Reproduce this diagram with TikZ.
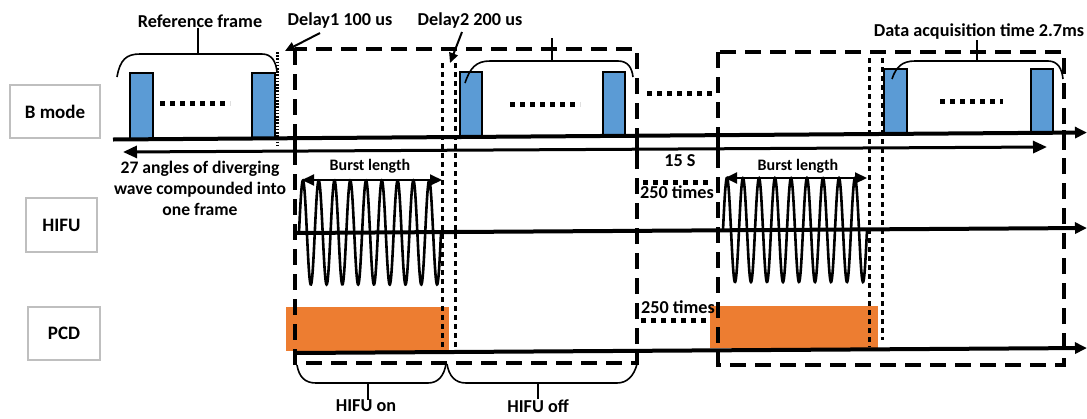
\documentclass[tikz,border=0pt]{standalone}
\usepackage{fontspec}
\setmainfont{Carlito}
\usetikzlibrary{arrows.meta}
\definecolor{pulseblue}{HTML}{5B9BD5}
\definecolor{pcdorange}{HTML}{ED7D31}
\definecolor{boxgray}{HTML}{BFBFBF}
\tikzset{
  axisline/.style={line width=4pt, -{Triangle[length=12pt,width=11pt]}},
  dashbox/.style={line width=4pt, dash pattern=on 16pt off 9pt},
  delayline/.style={line width=3pt, dash pattern=on 5pt off 4pt},
  dotrow/.style={line width=5pt, dash pattern=on 5pt off 5pt},
  pulse/.style={draw=black, line width=2.5pt, fill=pulseblue},
  bracket/.style={line width=1.6pt},
  tick/.style={line width=4pt},
  wave/.style={line width=2.6pt},
  lbl/.style={font=\bfseries\fontsize{18.2}{21}\selectfont, inner sep=0pt},
  anglbl/.style={font=\bfseries\fontsize{17.6}{21}\selectfont, inner sep=0pt},
  smalllbl/.style={font=\bfseries\fontsize{16}{18}\selectfont, inner sep=0pt},
  sidebox/.style={draw=boxgray, line width=1.5pt, fill=white, inner sep=0pt,
    font=\bfseries\fontsize{19}{22}\selectfont},
  spanarrow/.style={line width=3pt, {Triangle[length=14pt,width=12pt]}-{Triangle[length=14pt,width=12pt]}},
  burstarrow/.style={line width=2pt, {Triangle[length=12pt,width=11pt]}-{Triangle[length=12pt,width=11pt]}},
  delayarrow/.style={line width=2pt, -{Triangle[length=10pt,width=9pt]}}
}
\begin{document}
\begin{tikzpicture}[x=1pt,y=-1pt]
\useasboundingbox (0,0) rectangle (1087,418);
\fill[white] (0,0) rectangle (1087,418);

% side labels
\node[sidebox, minimum width=90pt, minimum height=53pt] (bmode) at (55,111.5) {B mode};
\node[sidebox, minimum width=71pt, minimum height=54pt] (hifu) at (61.5,225) {HIFU};
\node[sidebox, minimum width=72pt, minimum height=53pt] (pcd) at (64,333.5) {PCD};

% PCD orange blocks
\fill[pcdorange] (286,307) rectangle (449,351);
\fill[pcdorange] (710,306) rectangle (878,348);

% big dashed boxes
\draw[dashbox] (295,49) rectangle (637,363);
\draw[dashbox] (718,52) rectangle (1064,365);

% B mode pulses
\draw[pulse] (130,73) rectangle (153,139.3);
\draw[pulse] (252,73) rectangle (275,138.5);
\draw[pulse] (460,72) rectangle (482,137);
\draw[pulse] (603,72) rectangle (625,136.5);
\draw[pulse] (884,69) rectangle (907,133.5);
\draw[pulse] (1031,69) rectangle (1053,133);

% dotted rows
\draw[dotrow] (160,103) -- (230,103);
\draw[dotrow] (510,104) -- (580,104);
\draw[dotrow] (940,101) -- (1003,101);
\draw[dotrow] (647,93) -- (712,93);
\draw[dotrow] (643,182) -- (708,182);
\draw[dotrow] (641,320) -- (707,320);

% reference frame end marker
\draw[line width=3pt, dash pattern=on 1.6pt off 1.6pt] (277.5,52) -- (277.5,147);

% delay dotted verticals
\draw[delayline] (442,63) -- (442,347);
\draw[delayline] (455,63) -- (455,347);
\draw[delayline] (869,58) -- (869,347);
\draw[delayline] (882,58) -- (882,340);

% axes
\draw[axisline] (113,139.5) -- (1087,132.5);
\draw[axisline] (295,233) -- (1087,228);
\draw[axisline] (295,353) -- (1087,348);
\draw[spanarrow] (123,152) -- (1047,147);

% ticks between axis and span arrow
\draw[tick] (295,136) -- (295,156);
\draw[tick] (637,133) -- (637,153);
\draw[tick] (718,132) -- (718,152);
\draw[tick] (1064,130) -- (1064,150);

% HIFU bursts
\draw[wave] plot[domain=0:142, samples=500, smooth] ({299+\x},{232.5-52*sin(\x/15.78*360)});
\draw[wave] plot[domain=0:144, samples=500, smooth] ({723+\x},{230-52*sin(\x/16*360)});

% burst length arrows
\draw[burstarrow] (302,180) -- (442,180);
\node[smalllbl] (bl1) at (370,166) {Burst length};
\draw[burstarrow] (725,178) -- (867,178);
\node[smalllbl] (bl2) at (798,166) {Burst length};

% top brackets
\coordinate (rb) at (198,54);
\draw[bracket] (117,77) .. controls (120,60) and (126,54) .. (140,54) -- (262,54) .. controls (272,54) and (276,62) .. (277,72);
\node[lbl] (reflbl) at (200,21) {Reference frame};
\draw[bracket] (rb) -- (reflbl.south -| rb);

\coordinate (b2) at (552,61);
\draw[bracket] (465,83) .. controls (470,68) and (476,61) .. (490,61) -- (618,61) .. controls (628,61) and (632,68) .. (633,77);
\coordinate (b2top) at (552,38);
\draw[bracket] (b2) -- (b2top);

\coordinate (b3) at (977,61);
\draw[bracket] (892,79) .. controls (896,67) and (902,61) .. (915,61) -- (1048,61) .. controls (1058,61) and (1062,69) .. (1063,79);
\node[lbl] (daq) at (979,32) {Data acquisition time 2.7ms};
\draw[bracket] (b3) -- (daq.south -| b3);

% delay labels
\node[lbl] (d1) at (340,21) {Delay1 100 us};
\coordinate (d1tip) at (285,51);
\draw[delayarrow] (320,33) -- (d1tip);
\node[lbl] (d2) at (470,21) {Delay2 200 us};
\coordinate (d2tip) at (450,63);
\draw[delayarrow] (462,32) -- (d2tip);

% texts
\node[anglbl, align=center] (angles) at (200,188) {27 angles of diverging\\wave compounded into\\one frame};
\node[lbl] (fifteen) at (680,161) {15 S};
\node[lbl] (times1) at (677,192) {250 times};
\node[lbl] (times2) at (678,307) {250 times};

% bottom brackets
\coordinate (on) at (368,383);
\draw[bracket] (297,365) .. controls (299,377) and (305,383) .. (316,383) -- (428,383) .. controls (438,383) and (444,376) .. (446,364);
\node[lbl] (onlbl) at (366,406) {HIFU on};
\draw[bracket] (on) -- (onlbl.north -| on);

\coordinate (off) at (538,383);
\draw[bracket] (447,364) .. controls (449,376) and (455,383) .. (466,383) -- (617,383) .. controls (627,383) and (634,376) .. (637,364);
\node[lbl] (offlbl) at (538,406) {HIFU off};
\draw[bracket] (off) -- (offlbl.north);
\end{tikzpicture}
\end{document}
